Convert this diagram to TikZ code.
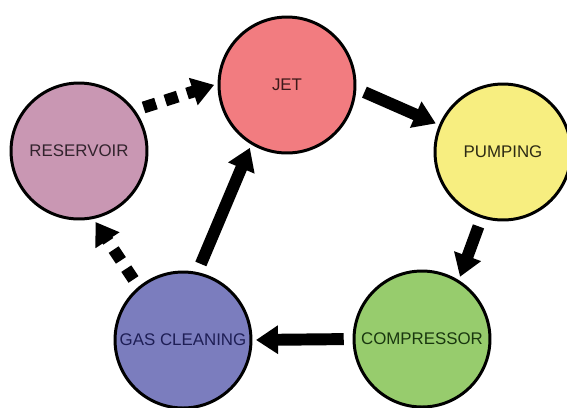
\documentclass[tikz,border=0pt]{standalone}
\usepackage{fontspec}
\setmainfont{Liberation Sans}
\usepackage{tikz}
\usetikzlibrary{arrows.meta}

\definecolor{jetred}{RGB}{242,124,128}
\definecolor{pumpyellow}{RGB}{247,238,128}
\definecolor{resmauve}{RGB}{201,151,179}
\definecolor{gasblue}{RGB}{123,125,190}
\definecolor{compgreen}{RGB}{151,204,109}

\begin{document}
\begin{tikzpicture}[x=0.02cm,y=-0.02cm,
    main node/.style={circle,draw,line width=1.7pt,minimum size=2.72cm,inner sep=0pt,font=\fontsize{9.6}{11}\selectfont},
    flow/.style={line width=6.8pt,-{Triangle[width=15.5pt,length=12.5pt]},shorten <=5pt,shorten >=2pt},
    side flow/.style={flow,dash pattern=on 7.4pt off 5.6pt}]

    \useasboundingbox (0,0) rectangle (567,407);

		\node[main node,fill=jetred,text={rgb,255:red,60;green,25;blue,25}](jet) at (287,85){JET};
		\node[main node,fill=pumpyellow,text={rgb,255:red,45;green,42;blue,20}](pump) at (503,152){PUMPING};
		\node[main node,fill=compgreen,text={rgb,255:red,25;green,55;blue,15}](comp) at (422,339){COMPRESSOR};
		\node[main node,fill=gasblue,text={rgb,255:red,30;green,30;blue,85}](gas) at (183,340){GAS CLEANING};
		\node[main node,fill=resmauve,text={rgb,255:red,50;green,35;blue,45}](res) at (79,151){RESERVOIR};

		\draw[flow] (jet.-3) -- (pump.157);
		\draw[flow] (pump.-108) -- (comp.58);
		\draw[flow] (comp.180) -- (gas.0);
		\draw[flow] (gas.78) -- (jet.-121);
		\draw[side flow] (gas.130) -- (res.-78);
		\draw[side flow] (res.36) -- (jet.179);

	\end{tikzpicture}
\end{document}
